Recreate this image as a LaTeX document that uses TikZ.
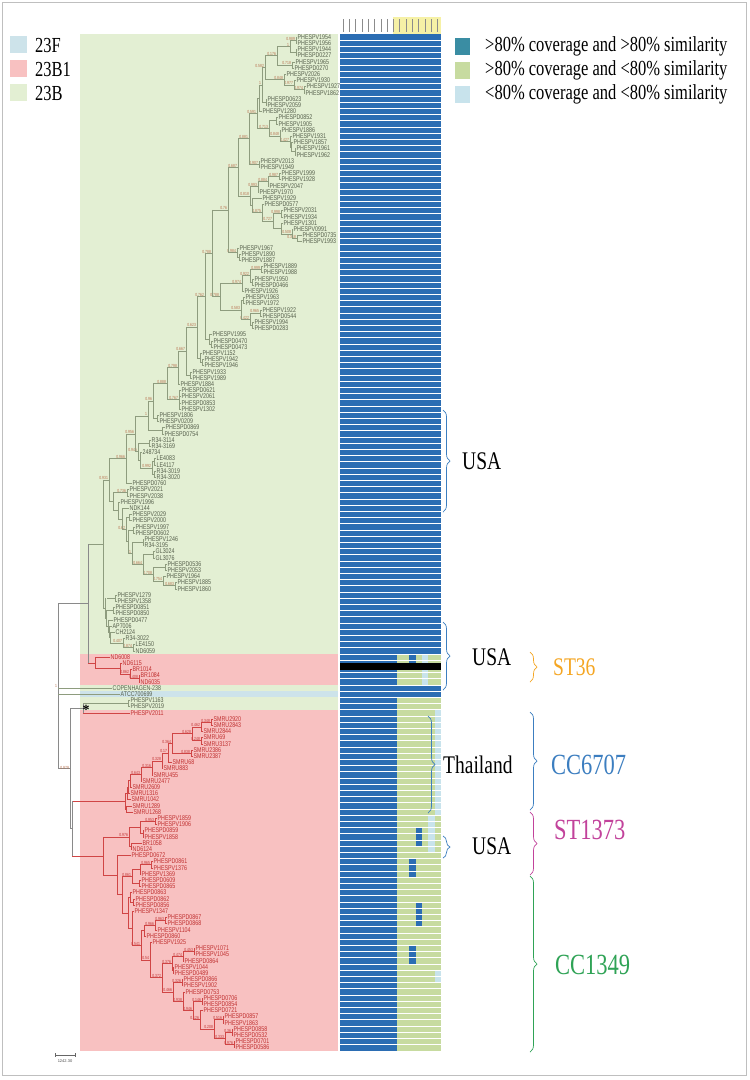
\documentclass[tikz,border=0pt]{standalone}
\usepackage{fontspec}
\usepackage{graphicx}
\setmainfont{Liberation Serif}
\newfontfamily\leaffont{Liberation Sans}
\usetikzlibrary{decorations.pathreplacing}

\definecolor{bgGreen}{HTML}{E3EFD3}
\definecolor{bgRed}{HTML}{F8C1C1}
\definecolor{bgBlue}{HTML}{CDE3EA}
\definecolor{lineG}{HTML}{8E9C7E}
\definecolor{lineR}{HTML}{D04545}
\definecolor{lineK}{HTML}{8A8A8A}
\definecolor{txtG}{HTML}{56604C}
\definecolor{txtR}{HTML}{C03030}
\definecolor{supG}{HTML}{B8704E}
\definecolor{hmBlue}{HTML}{2B6DB3}
\definecolor{hmGreen}{HTML}{C7DBA0}
\definecolor{hmLight}{HTML}{C8E3EC}
\definecolor{legTeal}{HTML}{3A8DA3}
\definecolor{hdYellow}{HTML}{F6F1A6}
\definecolor{brBlue}{HTML}{3C7EC0}
\definecolor{brOrange}{HTML}{F5A623}
\definecolor{brMagenta}{HTML}{C2429B}
\definecolor{brGreen}{HTML}{2FA356}

\newcommand{\vs}[1]{\scalebox{1}[1.3]{#1}}
\newcommand{\ry}[1]{37+6.2*(#1-1)}

\begin{document}
\begin{tikzpicture}[x=1pt, y=-1pt,
  treeG/.style={draw=lineG, line width=0.5pt},
  treeR/.style={draw=lineR, line width=0.5pt},
  treeK/.style={draw=lineK, line width=0.5pt},
  leaf/.style={anchor=west, inner sep=0.5pt, font=\leaffont\fontsize{5.3}{5.3}\selectfont},
  sup/.style={anchor=east, inner sep=0.4pt, font=\leaffont\fontsize{3.4}{3.4}\selectfont},
  legtext/.style={anchor=west, inner sep=0pt, font=\fontsize{16.5}{16.5}\selectfont},
  grplab/.style={anchor=west, inner sep=0pt, font=\fontsize{19.5}{19.5}\selectfont},
  cclab/.style={anchor=west, inner sep=0pt, font=\fontsize{22.5}{22.5}\selectfont},
  curly/.style={decorate, decoration={brace, amplitude=7pt}, line width=0.7pt}
]
\useasboundingbox (0,0) rectangle (750,1080);
\fill[white] (0,0) rectangle (750,1080);
\draw[black!25, line width=0.8pt] (2,2) rectangle (746,1075);

% serotype panels behind the tree
\fill[bgGreen] (80,33.9) rectangle (338,653.9);
\fill[bgRed]   (80,653.9) rectangle (338,684.9);
\fill[bgGreen] (80,684.9) rectangle (338,691.1);
\fill[bgBlue]  (80,691.1) rectangle (338,697.3);
\fill[bgGreen] (80,697.3) rectangle (338,709.7);
\fill[bgRed]   (80,709.7) rectangle (338,1050.7);

% legends
\fill[bgBlue]  (10,36) rectangle (27,53);
\fill[bgRed]   (10,60) rectangle (27,77);
\fill[bgGreen] (10,84) rectangle (27,101);
\node[legtext] (l23F) at (35,45) {\vs{23F}};
\node[legtext] (l23B1) at (35,69) {\vs{23B1}};
\node[legtext] (l23B) at (35,93) {\vs{23B}};
\fill[legTeal] (455,38) rectangle (470,55);
\fill[hmGreen] (455,62) rectangle (470,79);
\fill[hmLight] (455,86) rectangle (470,103);
\node[legtext] (kHH) at (485,46) {\vs{>80\% coverage and >80\% similarity}};
\node[legtext] (kHL) at (485,70) {\vs{>80\% coverage and <80\% similarity}};
\node[legtext] (kLL) at (485,94) {\vs{<80\% coverage and <80\% similarity}};

% heatmap
\fill[hdYellow] (393,17) rectangle (441,33.9);
\foreach \c in {1,...,16}
  \draw[black!45, line width=0.8pt] ({340+6.3*(\c-0.5)},19) -- ({340+6.3*(\c-0.5)},32);
\fill[hmBlue] (340,33.9) rectangle (440.8,1050.7);
\foreach \ra/\rb/\ca/\cb/\col in {
  101/105/10/16/hmGreen, 101/102/12/12/hmBlue, 101/105/14/14/hmLight,
  108/164/10/16/hmGreen, 110/126/16/16/hmLight, 127/132/15/15/hmLight,
  129/131/13/13/hmBlue, 134/136/12/12/hmBlue, 141/144/13/13/hmBlue,
  148/150/12/12/hmBlue, 152/153/16/16/hmLight}
  \fill[\col] ({340+6.3*(\ca-1)},{\ry{\ra}-3.1}) rectangle ({340+6.3*\cb},{\ry{\rb}+3.1});
\foreach \r in {1,...,163}
  \draw[white, line width=0.45pt] (340,{\ry{\r}+3.1}) -- (440.8,{\ry{\r}+3.1});
\fill[black] (340,663) rectangle (440.8,670);

% tree: internal nodes  x / first child row / last child row / parent x / support
\foreach \x/\a/\b/\p/\s in {
  296/1/2/290/0.989, 296/3/4/290/{}, 290/1.5/3.5/277/1, 292/5/6/277/0.718,
  277/2.5/5.5/265/0.176, 304/9/10/294/0.974, 294/8/9.5/284/0.977, 284/7/8.75/265/0.848,
  265/4/7.875/262/0.582, 266/11/12/262/{}, 262/5.94/11.5/259/1, 259/8.72/13/257/{},
  276/14/15/269/{}, 295/19/20/291/{}, 291/18/19.5/290/{}, 290/17/18.75/280/0.427,
  280/16/17.875/269/0.848, 269/14.5/16.94/257/0.713, 257/10.86/15.72/249/0.591,
  259/21/22/249/0.907, 249/13.29/21.5/238/0.881, 279/23/24/268/0.987,
  268/23.5/25/258/0.884, 258/24.25/26/250/0.993, 297/33/34/292/0.318,
  292/32/33.5/281/0.508, 281/29/30/273/0.998, 281/31/32.75/273/{},
  273/29.5/31.875/262/0.727, 262/28/30.69/252/0.875, 252/27/29.34/250/{},
  250/25.125/28.17/238/0.818, 238/17.4/26.65/228/0.687, 239/36/37/237/{},
  237/35/36.5/228/0.984, 228/22/35.75/212/0.76, 261/38/39/250/0.999,
  252/40/41/250/{}, 250/38.5/40.5/242/0.922, 242/39.5/42/220/0.974,
  243/43/44/241/{}, 260/45/46/250/0.965, 252/47/48/250/{}, 250/45.5/47.5/241/0.422,
  241/43.5/46.5/220/0.583, 220/40.75/45/212/0.788, 212/28.9/42.875/205/0.788,
  211/50/51/209/{}, 209/49/50.5/205/{}, 205/35.9/49.75/197/0.762,
  202/53/54/200/{}, 200/52/53.5/197/{}, 197/42.8/52.75/186/0.623,
  190/55/56/186/{}, 186/47.8/55.5/178/0.667, 178/51.65/57/167/0.798,
  179/58/61/167/0.767, 167/54.3/59.5/153/0.888, 157/62/63/153/{},
  153/56.9/62.5/148/0.96, 162/64/65/148/{}, 148/59.7/64.5/135/1,
  149/66/67/138/{}, 154/69/70/152/{}, 154/71/72/152/{}, 152/69.5/71.5/140/0.992,
  140/68/70.5/138/{}, 138/66.5/69.25/135/0.945, 135/62.1/67.9/126/0.956,
  126/65/73/109/0.966, 133/80/81/128/{}, 143/82/83/132/{}, 153/84/85/143/{},
  165/86/87/153/{}, 175/89/90/163/0.683, 163/88/89.5/153/0.754,
  153/86.5/88.75/143/0.708, 143/84.5/87.6/132/0.664, 132/82.5/86.05/128/1,
  128/80.5/84.3/126/{}, 129/78/79/126/{}, 126/78.5/82.4/122/0.62,
  122/77/80.45/118/{}, 118/76/78.7/113/{}, 127/74/75/113/0.736,
  113/74.5/77.35/109/{}, 109/69/75.9/103/0.931, 115/91/92/107/{},
  113/93/94/106/{}, 133/99/100/123/0.874, 123/98/99.5/110/0.407,
  110/97/98.75/109/{}, 109/96/97.9/108/{}, 108/95/96.95/106/{},
  106/93.5/95.98/105/{}, 105/91.5/94.74/103/{}, 103/72.45/93.12/88/{},
  128/108/109/83/{}} {
  \draw[treeG] (\x,{\ry{\a}}) -- (\x,{\ry{\b}});
  \draw[treeG] (\p,{\ry{(\a+\b)/2}}) -- (\x,{\ry{(\a+\b)/2}});
  \node[sup, text=supG] at (\x-0.5,{\ry{(\a+\b)/2}-1.6}) {\vs{\s}};
}
\foreach \x/\a/\b/\p/\s in {
  139/104/105/130/0.408, 130/103/104.5/120/0.862, 120/102/103.75/95/{},
  95/101/102.9/88/{}, 211/111/112/201/0.348, 201/111.5/113/192/0.462,
  201/114/115/192/0.248, 192/112.25/114.5/172/0.628, 191/116/117/172/0.838,
  172/113.4/116.5/168/0.364, 168/114.95/118/162/0.17, 162/116.5/119/152/0.328,
  152/117.7/120/141/0.316, 141/118.9/121/130/0.643, 130/119.9/122/128/{},
  128/120.95/123/127/{}, 127/121.98/124/125/{}, 126/125/126/125/{},
  125/123/125.5/72/{}, 155/127/128/140/0.953, 143/129/130/140/{},
  140/127.5/129.5/129/{}, 131/131/132/129/{}, 129/128.5/131.5/103/0.976,
  151/134/135/140/0.965, 140/134.5/136/132/{}, 139/137/138/132/{},
  132/135.25/137.5/122/0.861, 133/140/141/130/{}, 130/139/140.5/128/{},
  165/143/144/155/0.963, 155/143.5/145/144/0.966, 144/144.25/146/141/{},
  194/148/149/183/0.453, 183/148.5/150/172/0.474, 173/151/152/172/{},
  172/149.25/151.5/162/0.376, 182/153/154/173/0.326, 202/156/157/193/0.146,
  234/163/164/225/0.976, 232/161/162/225/0.36, 225/161.5/163.5/214/0.333,
  223/159/160/214/0.516, 214/159.5/162.5/200/0.208, 200/158/161/193/0.126,
  193/156.5/159.5/183/0.946, 183/155/158/173/0.938, 173/153.5/156.5/162/0.466,
  162/150.4/155/150/0.372, 150/147/152.7/141/0.54, 141/145.1/149.85/132/0.541,
  132/142/147.5/128/{}, 128/139.75/144.75/122/{}, 122/136.4/142.25/117/{},
  117/133/139.3/103/{}, 103/130/136.15/72/{}} {
  \draw[treeR] (\x,{\ry{\a}}) -- (\x,{\ry{\b}});
  \draw[treeR] (\p,{\ry{(\a+\b)/2}}) -- (\x,{\ry{(\a+\b)/2}});
  \node[sup, text=txtR] at (\x-0.5,{\ry{(\a+\b)/2}-1.6}) {\vs{\s}};
}
\foreach \x/\a/\b/\p/\s in {
  88/82.8/101.95/58/{}, 83/108.5/110/70/{}, 72/124.25/133.1/70/{},
  70/109.25/128.7/58/0.979, 58/92.4/118.98/58/1} {
  \draw[treeK] (\x,{\ry{\a}}) -- (\x,{\ry{\b}});
  \draw[treeK] (\p,{\ry{(\a+\b)/2}}) -- (\x,{\ry{(\a+\b)/2}});
  \node[sup, text=supG] at (\x-0.5,{\ry{(\a+\b)/2}}) {\vs{\s}};
}

% tree: leaves  row / tip x / parent x / name
\foreach \r/\t/\p/\name in {
  1/297/296/PHESPV1954, 2/297/296/PHESPV1956, 3/297/296/PHESPV1944,
  4/297/296/PHESPD0227, 5/295/292/PHESPV1965, 6/294/292/PHESPD0270,
  7/286/284/PHESPV2026, 8/296/294/PHESPV1930, 9/306/304/PHESPV1927,
  10/305/304/PHESPV1862, 11/267/266/PHESPD0623, 12/267/266/PHESPV2059,
  13/262/259/PHESPV1280, 14/278/276/PHESPD0852, 15/278/276/PHESPV1905,
  16/281/280/PHESPV1886, 17/292/290/PHESPV1931, 18/293/291/PHESPV1857,
  19/296/295/PHESPV1961, 20/296/295/PHESPV1962, 21/260/259/PHESPV2013,
  22/260/259/PHESPV1949, 23/281/279/PHESPV1999, 24/281/279/PHESPV1928,
  25/269/268/PHESPV2047, 26/259/258/PHESPV1970, 27/262/252/PHESPV1929,
  28/264/262/PHESPD0577, 29/283/281/PHESPV2031, 30/283/281/PHESPV1934,
  31/283/281/PHESPV1301, 32/293/292/PHESPV0991, 33/302/297/PHESPD0735,
  34/302/297/PHESPV1993, 35/239/237/PHESPV1967, 36/241/239/PHESPV1890,
  37/241/239/PHESPV1887, 38/263/261/PHESPV1889, 39/263/261/PHESPV1988,
  40/254/252/PHESPV1950, 41/254/252/PHESPD0466, 42/244/242/PHESPV1926,
  43/245/243/PHESPV1963, 44/245/243/PHESPV1972, 45/262/260/PHESPV1922,
  46/262/260/PHESPD0544, 47/254/252/PHESPV1994, 48/254/252/PHESPD0283,
  49/212/209/PHESPV1995, 50/213/211/PHESPD0470, 51/213/211/PHESPD0473,
  52/202/200/PHESPV1152, 53/204/202/PHESPV1942, 54/204/202/PHESPV1946,
  55/192/190/PHESPV1933, 56/192/190/PHESPV1989, 57/180/178/PHESPV1884,
  58/181/179/PHESPD0621, 59/181/179/PHESPV2061, 60/181/179/PHESPD0853,
  61/181/179/PHESPV1302, 62/159/157/PHESPV1806, 63/159/157/PHESPV0209,
  64/165/162/PHESPD0869, 65/164/162/PHESPD0754, 66/151/149/R34-3114,
  67/151/149/R34-3169, 68/142/140/248734, 69/156/154/LE4083,
  70/156/154/LE4117, 71/156/154/R34-3019, 72/156/154/R34-3020,
  73/132/126/PHESPD0760, 74/129/127/PHESPV2021, 75/129/127/PHESPV2038,
  76/120/118/PHESPV1996, 77/129/122/NDK144, 78/132/129/PHESPV2029,
  79/132/129/PHESPV2000, 80/135/133/PHESPV1997, 81/135/133/PHESPD0602,
  82/144/143/PHESPV1246, 83/144/143/R34-3195, 84/155/153/GL3024,
  85/155/153/GL3076, 86/167/165/PHESPD0536, 87/167/165/PHESPV2053,
  88/166/163/PHESPV1964, 89/177/175/PHESPV1885, 90/177/175/PHESPV1860,
  91/117/115/PHESPV1279, 92/117/115/PHESPV1358, 93/115/113/PHESPD0851,
  94/115/113/PHESPD0850, 95/113/108/PHESPD0477, 96/112/109/AP7006,
  97/115/110/CH2124, 98/125/123/R34-3022, 99/135/133/LE4150,
  100/135/133/ND6059, 106/112/58/COPENHAGEN-238, 107/120/58/ATCC700699,
  108/130/128/PHESPV1163, 109/130/128/PHESPV2019} {
  \draw[treeG] (\p,{\ry{\r}}) -- (\t,{\ry{\r}});
  \node[leaf, text=txtG] (leaf\r) at (\t,{\ry{\r}}) {\vs{\name}};
}
\foreach \r/\t/\p/\name in {
  101/110/95/ND6008, 102/122/120/ND6115, 103/132/130/BR1014,
  104/140/139/BR1084, 105/140/139/ND6035, 110/130/83/PHESPV2011,
  111/213/211/SMRU2920, 112/213/211/SMRU2843, 113/203/201/SMRU2844,
  114/203/201/SMRU69, 115/203/201/SMRU3137, 116/193/191/SMRU2386,
  117/193/191/SMRU2387, 118/172/168/SMRU68, 119/163/162/SMRU883,
  120/153/152/SMRU455, 121/142/141/SMRU2477, 122/132/130/SMRU2609,
  123/130/128/SMRU1316, 124/131/127/SMRU1042, 125/132/126/SMRU1289,
  126/133/126/SMRU1268, 127/157/155/PHESPV1859, 128/157/155/PHESPV1906,
  129/144/143/PHESPD0859, 130/144/143/PHESPV1858, 131/142/131/BR1058,
  132/132/131/ND6124, 133/131/117/PHESPD0672, 134/153/151/PHESPD0861,
  135/153/151/PHESPV1376, 136/141/140/PHESPV1369, 137/141/139/PHESPD0609,
  138/141/139/PHESPD0865, 139/132/130/PHESPD0863, 140/135/133/PHESPD0862,
  141/135/133/PHESPD0856, 142/134/132/PHESPV1347, 143/167/165/PHESPD0867,
  144/167/165/PHESPD0868, 145/157/155/PHESPV1104, 146/146/144/PHESPD0860,
  147/152/150/PHESPV1925, 148/195/194/PHESPV1071, 149/195/194/PHESPV1045,
  150/184/183/PHESPD0864, 151/174/173/PHESPV1044, 152/174/173/PHESPD0489,
  153/183/182/PHESPD0866, 154/183/182/PHESPV1902, 155/185/183/PHESPD0753,
  156/203/202/PHESPD0706, 157/203/202/PHESPD0854, 158/203/200/PHESPD0721,
  159/224/223/PHESPD0857, 160/224/223/PHESPV1863, 161/233/232/PHESPD0858,
  162/233/232/PHESPD0532, 163/235/234/PHESPD0701, 164/235/234/PHESPD0586} {
  \draw[treeR] (\p,{\ry{\r}}) -- (\t,{\ry{\r}});
  \node[leaf, text=txtR] (leaf\r) at (\t,{\ry{\r}}) {\vs{\name}};
}
\node[font=\bfseries\fontsize{14}{14}\selectfont, inner sep=0pt] (star) at (86,710) {*};

% scale bar
\draw[black!60, line width=0.5pt] (55,1055) -- (75,1055);
\draw[black!60, line width=0.5pt] (55,1053) -- (55,1057) (75,1053) -- (75,1057);
\node[font=\leaffont\fontsize{4}{4}\selectfont, text=black!70, inner sep=0pt] (scale) at (65,1061) {1242.30};

% clade braces
\draw[curly, draw=brBlue] (443,410) -- (443,512);
\node[grplab] (usa1) at (462,461) {\vs{USA}};
\draw[curly, draw=brBlue] (443,622) -- (443,690);
\node[grplab] (usa2) at (472,657) {\vs{USA}};
\draw[curly, draw=brOrange] (530,652) -- (530,682);
\node[grplab, text=brOrange] (st36) at (553,667) {\vs{ST36}};
\draw[curly, draw=brBlue] (428,716) -- (428,813);
\node[grplab] (thai) at (443,765) {\vs{Thailand}};
\draw[curly, draw=brBlue] (530,712) -- (530,810);
\node[cclab, text=brBlue] (cc6707) at (551,765) {\vs{CC6707}};
\draw[curly, draw=brMagenta] (530,812) -- (530,875);
\node[cclab, text=brMagenta] (st1373) at (554,830) {\vs{ST1373}};
\draw[curly, draw=brBlue] (443,836) -- (443,858);
\node[grplab] (usa3) at (472,846) {\vs{USA}};
\draw[curly, draw=brGreen] (530,876) -- (530,1052);
\node[cclab, text=brGreen] (cc1349) at (555,965) {\vs{CC1349}};
\end{tikzpicture}
\end{document}
